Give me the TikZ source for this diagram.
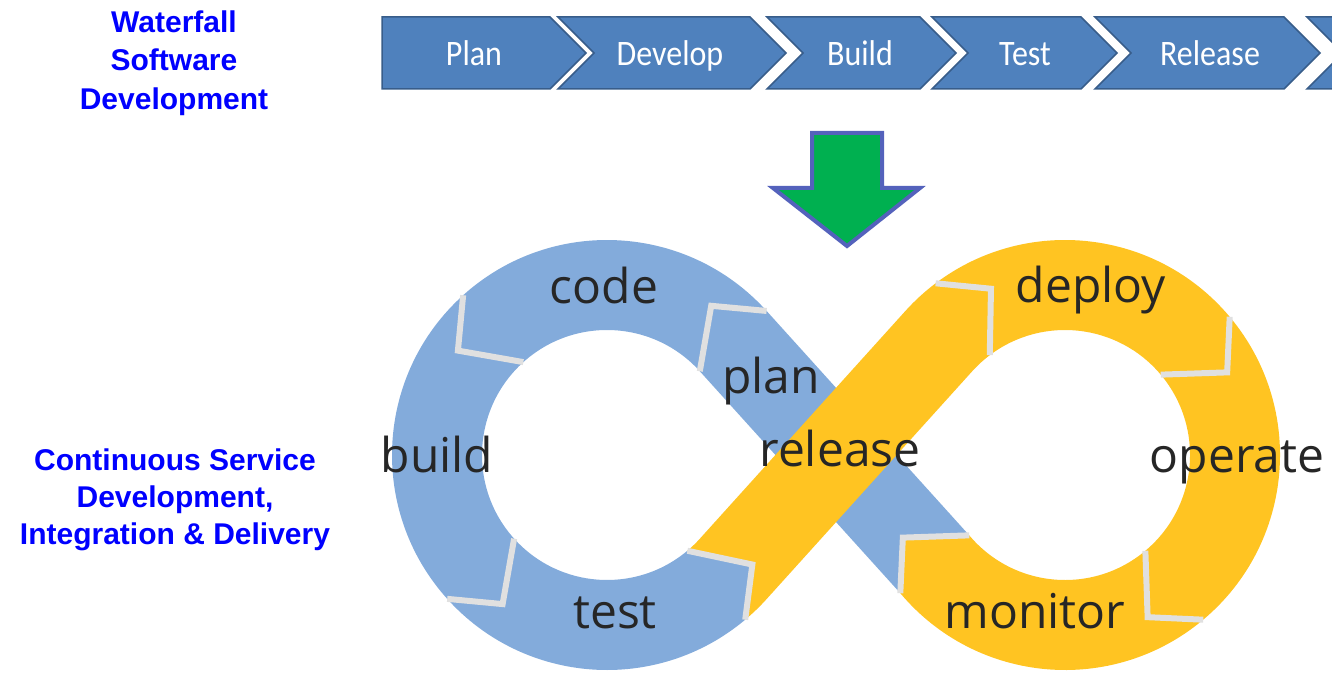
\documentclass[tikz,border=0pt]{standalone}
\usepackage{fontspec}
\setmainfont{Liberation Sans}
\newfontfamily\chevfont{Carlito}
\newfontfamily\loopfont{Open Sans}
\usetikzlibrary{calc}

\definecolor{wfblue}{RGB}{79,129,189}
\definecolor{wfedge}{RGB}{56,93,138}
\definecolor{loopblue}{RGB}{131,171,219}
\definecolor{loopyellow}{RGB}{255,196,34}
\definecolor{looptext}{RGB}{38,38,38}
\definecolor{arrowgreen}{RGB}{0,176,80}
\definecolor{arrowedge}{RGB}{84,98,188}

% ring piece: centre, from, to, tip offset, colour
\newcommand\ringseg[5]{%
  \fill[#5] ($(#1)+(#2:215)$) -- ($(#1)+({#2+(#4)}:182)$) -- ($(#1)+(#2:125)$)
    arc[start angle=#2, end angle=#3, radius=125]
    -- ($(#1)+({#3+(#4)}:182)$) -- ($(#1)+(#3:215)$)
    arc[start angle=#3, end angle=#2, radius=215] -- cycle;}
\newcommand\notch[3]{%
  \draw[sep] ($(#1)+(#2:215)$) -- ($(#1)+({#2+(#3)}:182)$) -- ($(#1)+(#2:125)$);}

\begin{document}
\begin{tikzpicture}[x=1pt,y=1pt,
  title/.style={text=blue,font=\fontsize{30}{38.5}\selectfont\bfseries,align=center},
  chev/.style={fill=wfblue,draw=wfedge,line width=1.5pt},
  chevtext/.style={text=white,font=\chevfont\fontsize{32}{32}\selectfont,anchor=base,yscale=1.12},
  looplabel/.style={text=looptext,font=\loopfont\fontsize{48}{48}\selectfont,anchor=base},
  sep/.style={draw=black!12,line width=6pt,line join=miter}]
  \useasboundingbox (0,0) rectangle (1332,-676);
  \clip (0,0) rectangle (1332,-676);

  \node[title] (waterfall) at (174,-63) {Waterfall\\Software\\Development};
  \node[title,font=\fontsize{30}{37}\selectfont\bfseries] (continuous) at (175,-500)
    {Continuous Service\\Development,\\Integration \& Delivery};

  % waterfall steps
  \foreach \xl/\xr/\nd in {382/550/0,558/750/36,767/920/36,932/1081/36,1095/1284/36,1307/1500/36}
    \draw[chev] (\xl,-17) -- (\xr,-17) -- (\xr+36,-53) -- (\xr,-89) -- (\xl,-89) -- (\xl+\nd,-53) -- cycle;
  \foreach \x/\lab/\nm in {474/Plan/plan,670/Develop/develop,860/Build/build,1025/Test/test,1210/Release/release}
    \node[chevtext] (w\nm) at (\x,-66) {\lab};

  \draw[fill=arrowgreen,draw=arrowedge,line width=4pt] (812,-133) -- (882,-133) -- (882,-188) -- (920,-188)
    -- (847,-246) -- (773,-188) -- (812,-188) -- cycle;

  % infinity loop
  \coordinate (L) at (607,-455);
  \coordinate (R) at (1065,-455);
  \pgfmathsetmacro\tg{acos(170/229)}

  \fill[loopblue] ($(R)+(220:215)$) -- ($(R)+(207:182)$) -- ($(R)+(220:125)$) -- ($(L)+(\tg:215)$)
    -- ($(L)+({\tg+13}:182)$) -- ($(L)+(\tg:125)$) -- cycle;
  \ringseg{L}{\tg}{132}{13}{loopblue}
  \ringseg{L}{132}{222}{13}{loopblue}
  \ringseg{L}{222}{310}{13}{loopblue}
  \ringseg{R}{127}{40}{-13}{loopyellow}
  \ringseg{R}{40}{-50}{-13}{loopyellow}
  \ringseg{R}{-50}{-140}{-13}{loopyellow}
  \fill[loopyellow] ($(L)+(-50:215)$) -- ($(L)+(-37:182)$) -- ($(L)+(-50:125)$)
    arc[start angle=-50, end angle=-\tg, radius=125] -- ($(R)+({180-\tg}:215)$)
    arc[start angle={180-\tg}, end angle=127, radius=215] -- ($(R)+(114:182)$) -- ($(R)+(127:125)$)
    arc[start angle=127, end angle={180-\tg}, radius=125] -- ($(L)+(-\tg:215)$)
    arc[start angle=-\tg, end angle=-50, radius=215] -- cycle;

  \notch{L}{\tg}{13}
  \notch{L}{132}{13}
  \notch{L}{222}{13}
  \notch{L}{-50}{13}
  \notch{R}{127}{-13}
  \notch{R}{40}{-13}
  \notch{R}{-50}{-13}
  \notch{R}{220}{-13}

  \node[looplabel] (code) at (604,-303) {code};
  \node[looplabel] (plan) at (771,-393) {plan};
  \node[looplabel] (build) at (437,-472) {build};
  \node[looplabel] (release) at (840,-466) {release};
  \node[looplabel] (test) at (615,-628) {test};
  \node[looplabel] (deploy) at (1091,-302) {deploy};
  \node[looplabel] (operate) at (1237,-472) {operate};
  \node[looplabel] (monitor) at (1035,-628) {monitor};
\end{tikzpicture}
\end{document}
